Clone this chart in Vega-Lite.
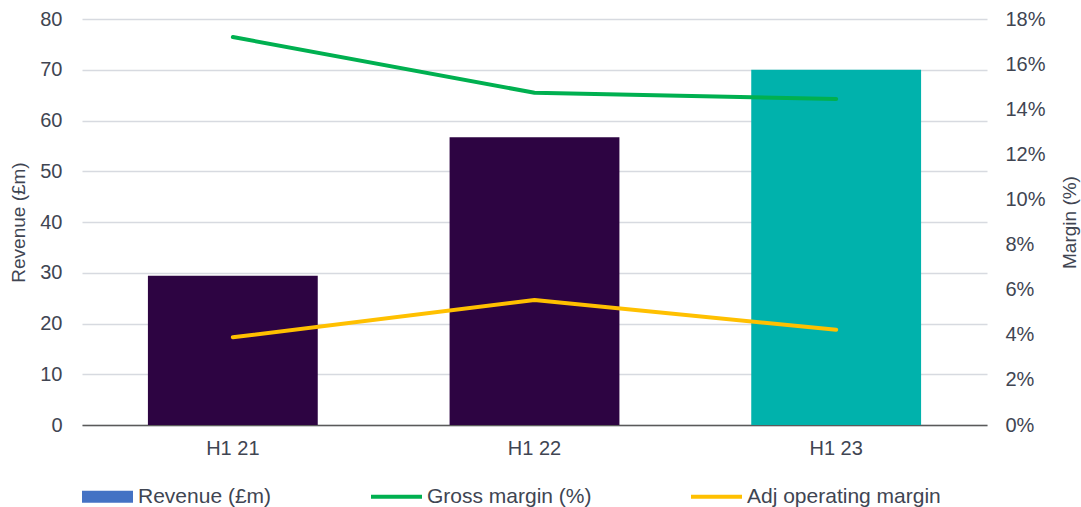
{
  "$schema": "https://vega.github.io/schema/vega-lite/v6.json",
  "autosize": "none",
  "width": 905,
  "height": 406,
  "padding": {"left": 82, "top": 19, "right": 94, "bottom": 82},
  "background": "white",
  "config": {
    "font": "Liberation Sans",
    "view": {"stroke": null},
    "axis": {
      "labelColor": "#404552",
      "titleColor": "#404552",
      "labelFont": "Liberation Sans",
      "titleFont": "Liberation Sans",
      "titleFontWeight": "normal",
      "ticks": false
    }
  },
  "datasets": {
    "revenue": [
      {"period": "H1 21", "revenue": 29.4},
      {"period": "H1 22", "revenue": 56.7},
      {"period": "H1 23", "revenue": 70.0}
    ],
    "margins": [
      {"period": "H1 21", "metric": "Gross margin (%)", "margin": 0.172},
      {"period": "H1 22", "metric": "Gross margin (%)", "margin": 0.1473},
      {"period": "H1 23", "metric": "Gross margin (%)", "margin": 0.1445},
      {"period": "H1 21", "metric": "Adj operating margin", "margin": 0.0389},
      {"period": "H1 22", "metric": "Adj operating margin", "margin": 0.0554},
      {"period": "H1 23", "metric": "Adj operating margin", "margin": 0.0422}
    ]
  },
  "encoding": {
    "x": {
      "field": "period",
      "type": "nominal",
      "sort": null,
      "scale": {"paddingInner": 0.437, "paddingOuter": 0.2185},
      "axis": {
        "title": null,
        "labelAngle": 0,
        "labelFontSize": 20,
        "labelPadding": 13,
        "domainColor": "#5a5a5a",
        "domainWidth": 1.5,
        "grid": false
      }
    }
  },
  "layer": [
    {
      "data": {"name": "revenue"},
      "mark": {"type": "bar"},
      "encoding": {
        "y": {
          "field": "revenue",
          "type": "quantitative",
          "scale": {"domain": [0, 80], "nice": false},
          "axis": {
            "title": "Revenue (£m)",
            "values": [0, 10, 20, 30, 40, 50, 60, 70, 80],
            "labelFontSize": 20,
            "labelPadding": 20,
            "titleFontSize": 19,
            "titlePadding": 11,
            "domain": false,
            "grid": true,
            "gridColor": "#D7DAE0",
            "gridWidth": 1.5
          }
        },
        "color": {
          "condition": {"test": "datum.period === 'H1 23'", "value": "#00B2AC"},
          "value": "#2D0442"
        }
      }
    },
    {
      "data": {"name": "margins"},
      "mark": {"type": "line", "strokeWidth": 4, "strokeCap": "round", "strokeJoin": "round"},
      "encoding": {
        "y": {
          "field": "margin",
          "type": "quantitative",
          "scale": {"domain": [0, 0.18], "nice": false},
          "axis": {
            "orient": "right",
            "title": "Margin (%)",
            "format": ".0%",
            "values": [0, 0.02, 0.04, 0.06, 0.08, 0.1, 0.12, 0.14, 0.16, 0.18],
            "labelFontSize": 20,
            "labelPadding": 18,
            "titleFontSize": 19,
            "titleAngle": -90,
            "titlePadding": 34,
            "domain": false,
            "grid": false
          }
        },
        "color": {
          "field": "metric",
          "type": "nominal",
          "scale": {
            "domain": ["Revenue (£m)", "Gross margin (%)", "Adj operating margin"],
            "range": ["#4472C4", "#00B050", "#FFC000"]
          },
          "legend": {
            "title": null,
            "orient": "none",
            "direction": "horizontal",
            "legendX": 0,
            "legendY": 452,
            "padding": 0,
            "symbolType": "M-1,-0.235H1V0.235H-1Z",
            "symbolSize": 2601,
            "symbolStrokeWidth": 0,
            "labelFontSize": 21,
            "labelFont": "Liberation Sans",
            "labelColor": "#404552",
            "labelOffset": 5,
            "labelLimit": 300,
            "columnPadding": 99,
            "encode": {
              "symbols": {
                "update": {
                  "shape": {"signal": "datum.value === 'Revenue (£m)' ? 'M-1,-0.235H1V0.235H-1Z' : 'M-1,-0.08H1V0.08H-1Z'"},
                  "fill": {"scale": "color", "field": "value"},
                  "strokeWidth": {"value": 0}
                }
              }
            }
          }
        }
      }
    }
  ],
  "resolve": {"scale": {"y": "independent"}}
}
